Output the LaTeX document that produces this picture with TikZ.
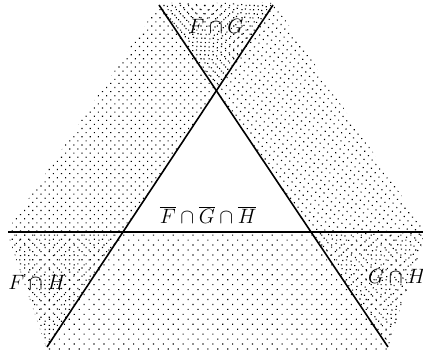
\documentclass[tikz,border=0pt]{standalone}
\usetikzlibrary{patterns.meta}
\begin{document}
\begin{tikzpicture}[x=1pt,y=-1pt,
  boundary/.style={line width=1.6pt},
  lbl/.style={font=\fontsize{21}{24}\selectfont, inner sep=0pt},
  fpat/.style={pattern={Dots[radius=0.8pt,distance=5.8pt,angle=45]}},
  gpat/.style={pattern={Dots[radius=0.8pt,distance=5.8pt,angle=40,xshift=1.5pt]}},
  hpat/.style={pattern={Dots[radius=0.8pt,distance=7pt,angle=45,yshift=1pt]}}]
\useasboundingbox (0,0) rectangle (423,350);
% line end points
\coordinate (f1) at (47,347);
\coordinate (f2) at (273,5);
\coordinate (g1) at (159,5);
\coordinate (g2) at (388,347);
\coordinate (h1) at (8,232);
\coordinate (h2) at (423,232);
% shading
\begin{scope}
  \clip (160,3) -- (274,3) -- (423,228) -- (423,242) -- (387,350) -- (47,350) -- (9,238) -- (9,228) -- cycle;
  \fill[fpat] (295.6,-29.2) -- (24.4,381.2) -- (-50,381) -- (-50,-30) -- cycle;
  \fill[gpat] (136.1,-29.2) -- (410.9,381.2) -- (480,381) -- (480,-30) -- cycle;
  \fill[hpat] (-50,232) -- (480,232) -- (480,400) -- (-50,400) -- cycle;
\end{scope}
% lines
\draw[boundary] (f1) -- (f2);
\draw[boundary] (g1) -- (g2);
\draw[boundary] (h1) -- (h2);
% labels
\node[lbl] (fg) at (216,26) {$F\cap G$};
\node[lbl] (fgh) at (208,215) {$\overline{F}\cap\overline{G}\cap\overline{H}$};
\node[lbl] (fh) at (37,282) {$F\cap H$};
\node[lbl, anchor=west] (gh) at (368,276) {$G\cap H$};
\end{tikzpicture}
\end{document}
